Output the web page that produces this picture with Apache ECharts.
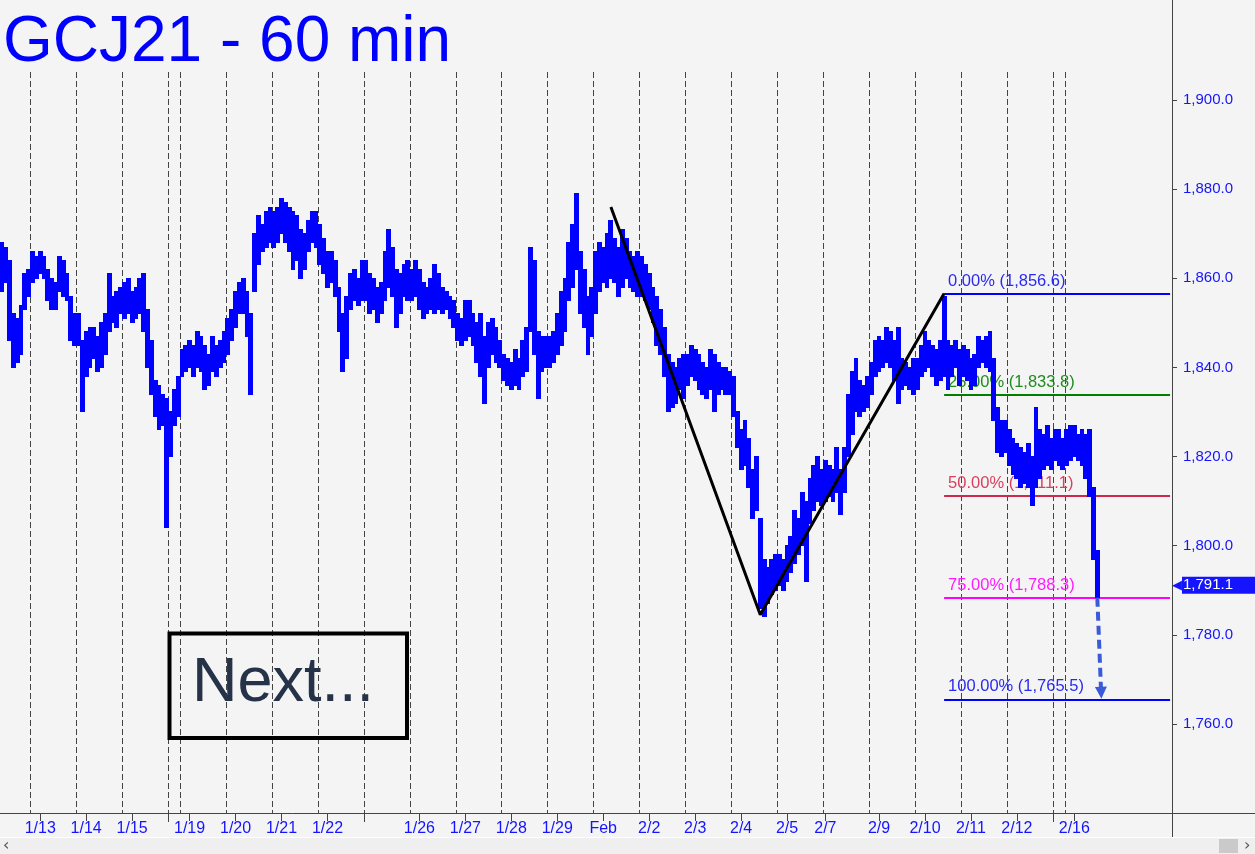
<!DOCTYPE html>
<html><head><meta charset="utf-8">
<script src="https://cdn.jsdelivr.net/npm/echarts@6/dist/echarts.min.js"></script>
<style>html,body{margin:0;padding:0;background:#f4f4f4}#c{width:1255px;height:854px}</style>
</head><body><div id="c"></div>
<script>
// ---- data (hourly-ish slots, ~2h each; 12 slots per trading session) ----
const slotCount = 306;
const lows = [
  1857,1859,1846,1840,1841,1843,1853,1856,
  1859,1860,1861,1860,1855,1853,1853,1857,1856,1855,1846,1845,
  1845,1830,1838,1840,1842,1839,1840,1843,1848,1850,1849,1852,
  1851,1852,1850,1851,1852,1848,1840,1834,1829,1826,1827,1804,
  1820,1827,1829,
  1838,1839,1840,1838,1840,1839,1835,1836,1839,1838,1840,1841,
  1843,1846,1849,1852,1852,1847,1834,1857,1863,1866,1867,1868,
  1867,1868,1870,1868,1866,1862,1864,1860,1862,1866,1868,1867,
  1863,1861,1858,1859,1856,1848,1839,1842,1853,1855,1854,1855,
  1855,1852,1853,1850,1852,1855,1858,1856,1849,1852,1856,1855,
  1855,1856,1853,1851,1852,1853,1852,1853,1852,1853,1851,1849,
  1846,1845,1846,1847,1845,1841,1838,1832,1840,1843,1841,1840,
  1837,1836,1835,1836,1835,1838,1839,1848,1843,1833,1839,1840,
  1840,1841,1843,1845,1848,1855,1858,1862,1852,1849,1843,1847,
  1852,1857,1859,1858,1860,1859,1856,1858,1860,1858,1857,1856,
  1856,1855,1853,1850,1845,1843,1838,1830,1831,1832,1835,1833,
  1836,1838,1837,1835,1834,1833,1835,1830,1834,1835,1834,1834,
  1829,1822,1817,1818,1813,1806,1808,1786,1784,1787,1789,1790,
  1791,1790,1792,1794,1796,1798,1800,1792,1805,1808,1810,1809,
  1810,1811,1810,1812,1807,1812,1820,1825,1830,1829,1830,1831,
  1834,1838,1839,1840,1841,1840,1837,1832,1835,1836,1835,1834,
  1835,1838,1839,1840,1838,1836,1837,1838,1835,1838,1840,1836,
  1838,1837,1835,1836,1840,1841,1840,1839,1828,1821,1820,1821,
  1818,1816,1815,1813,1814,1813,1809,1813,1815,1817,1818,1817,
  1819,1818,1817,
  1818,1819,1820,1819,1818,1815,1811,1797,1788.3
];
const highs = [
  1868,1867,1864,1852,1851,1854,1861,1862,
  1866,1865,1866,1865,1862,1860,1859,1865,1864,1861,1856,1852,
  1852,1846,1848,1849,1849,1847,1850,1852,1861,1856,1857,1858,
  1859,1860,1857,1858,1860,1861,1853,1846,1837,1836,1834,1833,
  1830,1835,1838,
  1844,1845,1846,1845,1848,1847,1845,1843,1847,1845,1846,1848,
  1851,1853,1857,1859,1860,1857,1852,1870,1874,1872,1875,1876,
  1875,1876,1878,1877,1876,1875,1874,1871,1870,1873,1875,1875,
  1872,1869,1866,1866,1864,1858,1852,1856,1861,1862,1860,1864,
  1864,1861,1860,1858,1859,1866,1871,1867,1862,1861,1863,1864,
  1862,1864,1862,1859,1858,1860,1863,1861,1858,1857,1856,1855,
  1852,1851,1855,1855,1852,1850,1852,1847,1850,1851,1849,1846,
  1843,1842,1841,1844,1842,1846,1849,1867,1864,1848,1847,1847,
  1847,1848,1852,1857,1860,1868,1872,1879,1866,1862,1856,1858,
  1866,1868,1867,1870,1873,1869,1867,1871,1869,1866,1865,1866,
  1865,1863,1861,1858,1856,1853,1849,1843,1841,1840,1842,1843,
  1843,1845,1844,1843,1841,1840,1844,1843,1841,1840,1840,1839,
  1838,1830,1826,1828,1824,1817,1820,1806,1797,1795,1797,1798,
  1798,1797,1800,1802,1808,1806,1812,1810,1815,1818,1820,1817,
  1819,1818,1817,1822,1817,1822,1834,1839,1842,1837,1836,1838,
  1841,1846,1847,1846,1849,1848,1846,1849,1842,1841,1840,1842,
  1842,1845,1848,1846,1845,1844,1846,1856,1846,1845,1846,1844,
  1845,1844,1842,1843,1847,1846,1847,1848,1842,1831,1828,1828,
  1826,1824,1823,1822,1821,1823,1820,1831,1826,1825,1827,1824,
  1826,1826,1824,
  1826,1827,1827,1825,1826,1825,1826,1813,1799
];
const lastPrice = 1791.1;
const sessionStarts = [8,20,32,44,47,59,71,83,95,107,119,131,143,155,167,179,191,203,215,227,239,251,263,275,278];
const weekBreaks = [44,95,275];
const dateLabels = ['1/13','1/14','1/15','1/19','1/20','1/21','1/22','1/26','1/27','1/28','1/29','Feb','2/2','2/3','2/4','2/5','2/7','2/9','2/10','2/11','2/12','2/16'];
const dateLabelSlots = [10,22,34,49,61,73,85,109,121,133,145,157,169,181,193,205,215,229,241,253,265,280];
const yTicks = [1760,1780,1800,1820,1840,1860,1880,1900];
const swingPoints = [[159,1876],[198,1784.5],[246,1856.6]];
const fibStartSlot = 246, fibEndSlot = 305;
const fibPct = ['0.00%','25.00%','50.00%','75.00%','100.00%'];
const fibValues = [1856.6,1833.8,1811.1,1788.3,1765.5];
const fibColors = ['#0000ff','#008000','#d0284c','#ff00ff','#0000ff'];
const fibLabelColors = ['#2a2aee','#1e8c1e','#d8405e','#ff1cff','#2a2aee'];
const projection = [[286,1788.3],[287,1767]];

// ---- build ----
const FONT = "'Liberation Sans', Arial, sans-serif";
const BLUE = '#1414ff';
const cats = Array.from({length: slotCount}, (_, i) => String(i));
const labelMap = {}; dateLabelSlots.forEach((s, i) => labelMap[s] = dateLabels[i]);
const sepSet = new Set(sessionStarts), weekSet = new Set(weekBreaks);
const ranges = lows.map((l, i) => [i, l, highs[i]]);
const fmt = v => v.toLocaleString('en-US', {minimumFractionDigits: 1, maximumFractionDigits: 1});

const chart = echarts.init(document.getElementById('c'), null, {renderer: 'canvas'});
chart.setOption({
  animation: false,
  backgroundColor: '#f4f4f4',
  title: {text: 'GCJ21 - 60 min', left: 3, top: 11, padding: 0,
    textStyle: {fontSize: 64, color: '#0000ff', fontFamily: FONT, fontWeight: 'normal'}},
  grid: {left: 0, right: 83, top: 72, bottom: 41, containLabel: false, outerBoundsMode: 'none'},
  xAxis: [{
    type: 'category', data: cats, boundaryGap: true, position: 'bottom',
    axisLine: {show: true, lineStyle: {color: '#444', width: 1}},
    axisTick: {show: true, alignWithLabel: true, interval: i => labelMap[i] !== undefined, length: 8, lineStyle: {color: '#444'}},
    axisLabel: {interval: i => labelMap[i] !== undefined, formatter: (v, i) => labelMap[i] || '', color: BLUE, fontSize: 16, margin: 8, fontFamily: FONT},
    splitLine: {show: true, interval: i => sepSet.has(i), lineStyle: {color: '#444', width: 1, type: [6, 3]}}
  }, {
    type: 'category', data: cats, boundaryGap: true, position: 'bottom',
    axisLine: {show: false}, axisLabel: {show: false}, splitLine: {show: false},
    axisTick: {show: true, interval: i => weekSet.has(i), length: 9, lineStyle: {color: '#444'}}
  }],
  yAxis: {
    type: 'value', position: 'right', min: 1740, max: 1906.3, interval: 20, scale: true,
    axisLine: {show: true, lineStyle: {color: '#444', width: 1}},
    axisTick: {show: true, customValues: yTicks, length: 5, lineStyle: {color: '#444'}},
    axisLabel: {customValues: yTicks, formatter: v => fmt(v), color: BLUE, fontSize: 15, margin: 11, fontFamily: FONT},
    splitLine: {show: false}
  },
  series: [{
    type: 'custom', name: 'GCJ21', data: ranges, z: 10, silent: true,
    encode: {x: 0, y: [1, 2]},
    renderItem: (params, api) => {
      const i = api.value(0);
      const top = api.coord([i, api.value(2)]);
      const bot = api.coord([i, api.value(1)]);
      const w = api.size([1, 0])[0];
      const x0 = Math.floor(top[0] - w / 2), x1 = Math.ceil(top[0] + w / 2);
      const y0 = Math.floor(top[1]), y1 = Math.max(Math.ceil(bot[1]), y0 + 2);
      return {type: 'rect', shape: {x: x0, y: y0, width: x1 - x0, height: y1 - y0},
        style: {fill: '#0000ff'}};
    }
  }, {
    type: 'line', name: 'swing', data: swingPoints, symbol: 'none', z: 20, silent: true,
    lineStyle: {color: '#000', width: 3},
    markLine: {
      silent: true, z: 1, symbol: ['none', 'none'], animation: false,
      data: fibValues.map((v, i) => [
        {coord: [fibStartSlot, v], lineStyle: {color: fibColors[i], width: 2, type: 'solid'},
         label: {show: true, position: 'insideStartTop', formatter: fibPct[i] + ' (' + fmt(v) + ')',
                 color: fibLabelColors[i], fontSize: 16.5, fontFamily: FONT, distance: [4, 4]}},
        {coord: [fibEndSlot, v]}
      ])
    }
  }, {
    type: 'line', name: 'projection', data: projection, symbol: 'none', z: 25, silent: true,
    lineStyle: {opacity: 0},
    markLine: {
      silent: true, z: 30, symbol: ['none', 'none'], animation: false,
      data: [
        [{coord: projection[0], symbol: 'none', lineStyle: {color: '#3a5ad8', width: 4, type: [9, 5]}, label: {show: false}},
         {coord: projection[1], symbol: 'triangle', symbolSize: [12, 12]}],
        {yAxis: lastPrice, lineStyle: {color: 'rgba(0,0,0,0)', width: 0}, label: {
          show: true, position: 'end', distance: 0, formatter: '{a|◀}{b|' + fmt(lastPrice) + '}',
          rich: {
            a: {color: '#1414ff', fontSize: 13, fontFamily: 'DejaVu Sans'},
            b: {backgroundColor: '#1414ff', color: '#ffffff', fontSize: 15, fontFamily: FONT, padding: [1, 24, 1, 1], lineHeight: 17}
          }}}
      ]
    }
  }],
  graphic: [
    {type: 'line', shape: {x1: 1172, y1: 813.5, x2: 1255, y2: 813.5}, style: {stroke: '#444', lineWidth: 1}, silent: true},
    {type: 'line', shape: {x1: 1172.5, y1: 0, x2: 1172.5, y2: 72}, style: {stroke: '#444', lineWidth: 1}, silent: true},
    {type: 'line', shape: {x1: 1172.5, y1: 813, x2: 1172.5, y2: 837}, style: {stroke: '#444', lineWidth: 1}, silent: true},
    {type: 'rect', shape: {x: 0, y: 837, width: 1255, height: 1}, style: {fill: '#ffffff'}, silent: true},
    {type: 'rect', shape: {x: 0, y: 838, width: 1255, height: 16}, style: {fill: '#efefef'}, silent: true},
    {type: 'rect', shape: {x: 1219, y: 839, width: 19, height: 14}, style: {fill: '#cacaca'}, silent: true},
    {type: 'text', x: 3, y: 846, style: {text: '‹', fill: '#555', font: "16px 'DejaVu Sans'", verticalAlign: 'middle'}, silent: true},
    {type: 'text', x: 1244, y: 846, style: {text: '›', fill: '#555', font: "16px 'DejaVu Sans'", verticalAlign: 'middle'}, silent: true},
    {type: 'rect', z: 50, shape: {x: 169.5, y: 633.5, width: 237.5, height: 104.5}, style: {fill: 'none', stroke: '#000', lineWidth: 4}, silent: true},
    {type: 'text', z: 50, x: 192, y: 684, style: {text: 'Next...', fill: '#253248', font: "63px 'Liberation Sans'", verticalAlign: 'middle'}, silent: true}
  ]
});
</script>
</body></html>
